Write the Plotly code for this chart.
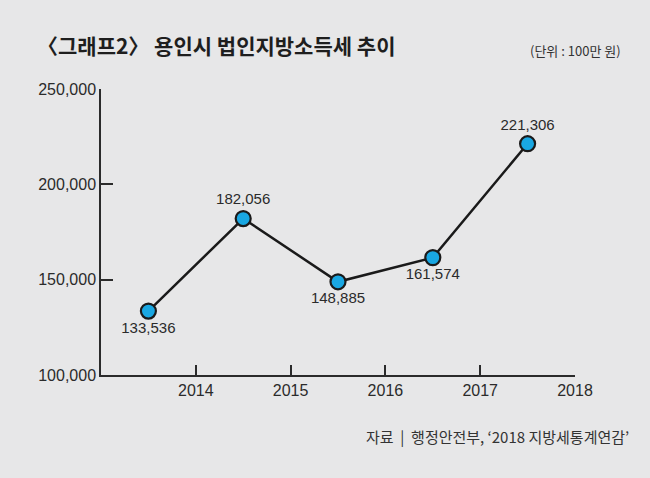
import plotly.graph_objects as go

# 연도 구간 중앙에 점을 찍음 (2013.5 = 2013년 값)
years = [2013.5, 2014.5, 2015.5, 2016.5, 2017.5]
values = [133536, 182056, 148885, 161574, 221306]
value_labels = ["133,536", "182,056", "148,885", "161,574", "221,306"]
label_pos = ["bottom center", "top center", "bottom center", "bottom center", "top center"]

x_ticks = [2014, 2015, 2016, 2017, 2018]
y_ticks = [100000, 150000, 200000, 250000]
y_tick_labels = ["100,000", "150,000", "200,000", "250,000"]

bg = "#e7e7e8"
ink = "#2b2b2b"
num_font = "Liberation Sans Narrow, Arial Narrow, Liberation Sans, Arial, sans-serif"
kr_font = "Noto Sans CJK KR, Noto Sans, sans-serif"

fig = go.Figure()

fig.add_trace(go.Scatter(
    x=years,
    y=values,
    mode="lines+markers+text",
    text=value_labels,
    textposition=label_pos,
    textfont=dict(family=num_font, size=15, color=ink),
    line=dict(color="#1a1a1a", width=2.5),
    marker=dict(size=15, color="#19a7e2", line=dict(color="#1a1a1a", width=2.2)),
    cliponaxis=False,
    showlegend=False,
))

fig.update_layout(
    width=650,
    height=478,
    paper_bgcolor=bg,
    plot_bgcolor=bg,
    margin=dict(l=101, r=75, t=89, b=103),
    title=dict(
        text="<b>〈그래프2〉 용인시 법인지방소득세 추이</b>",
        x=37 / 650, xanchor="left",
        y=1 - 47 / 478, yanchor="middle",
        font=dict(family=kr_font, size=21, color="#1e1e1e"),
    ),
    xaxis=dict(
        range=[2013, 2018],
        tickvals=x_ticks,
        ticktext=[str(v) for v in x_ticks],
        ticks="inside", ticklen=10, tickwidth=1.5, tickcolor=ink,
        showline=True, linecolor=ink, linewidth=1.5,
        showgrid=False, zeroline=False,
        tickfont=dict(family=num_font, size=16, color=ink),
    ),
    yaxis=dict(
        range=[100000, 250000],
        tickvals=y_ticks,
        ticktext=y_tick_labels,
        ticks="inside", ticklen=12, tickwidth=1.5, tickcolor=ink,
        showline=True, linecolor=ink, linewidth=1.5,
        showgrid=False, zeroline=False,
        tickfont=dict(family=num_font, size=16, color=ink),
    ),
    annotations=[
        dict(
            text="(단위 : 100만 원)",
            xref="paper", yref="paper",
            x=(624 - 101) / 475, y=1 + (89 - 50) / 286,
            xanchor="right", yanchor="middle", showarrow=False,
            font=dict(family=kr_font, size=13, color="#333333"),
        ),
        dict(
            text="자료  |  행정안전부, ‘2018 지방세통계연감’",
            xref="paper", yref="paper",
            x=(632 - 101) / 475, y=1 - (436 - 89) / 286,
            xanchor="right", yanchor="middle", showarrow=False,
            font=dict(family=kr_font, size=15, color="#333333"),
        ),
    ],
)

# 페이지 기본 여백 제거 (차트가 창에 딱 맞도록)
fig.write_html(
    "out.html",
    config={"displayModeBar": False},
    post_script="document.body.style.margin='0';",
)
